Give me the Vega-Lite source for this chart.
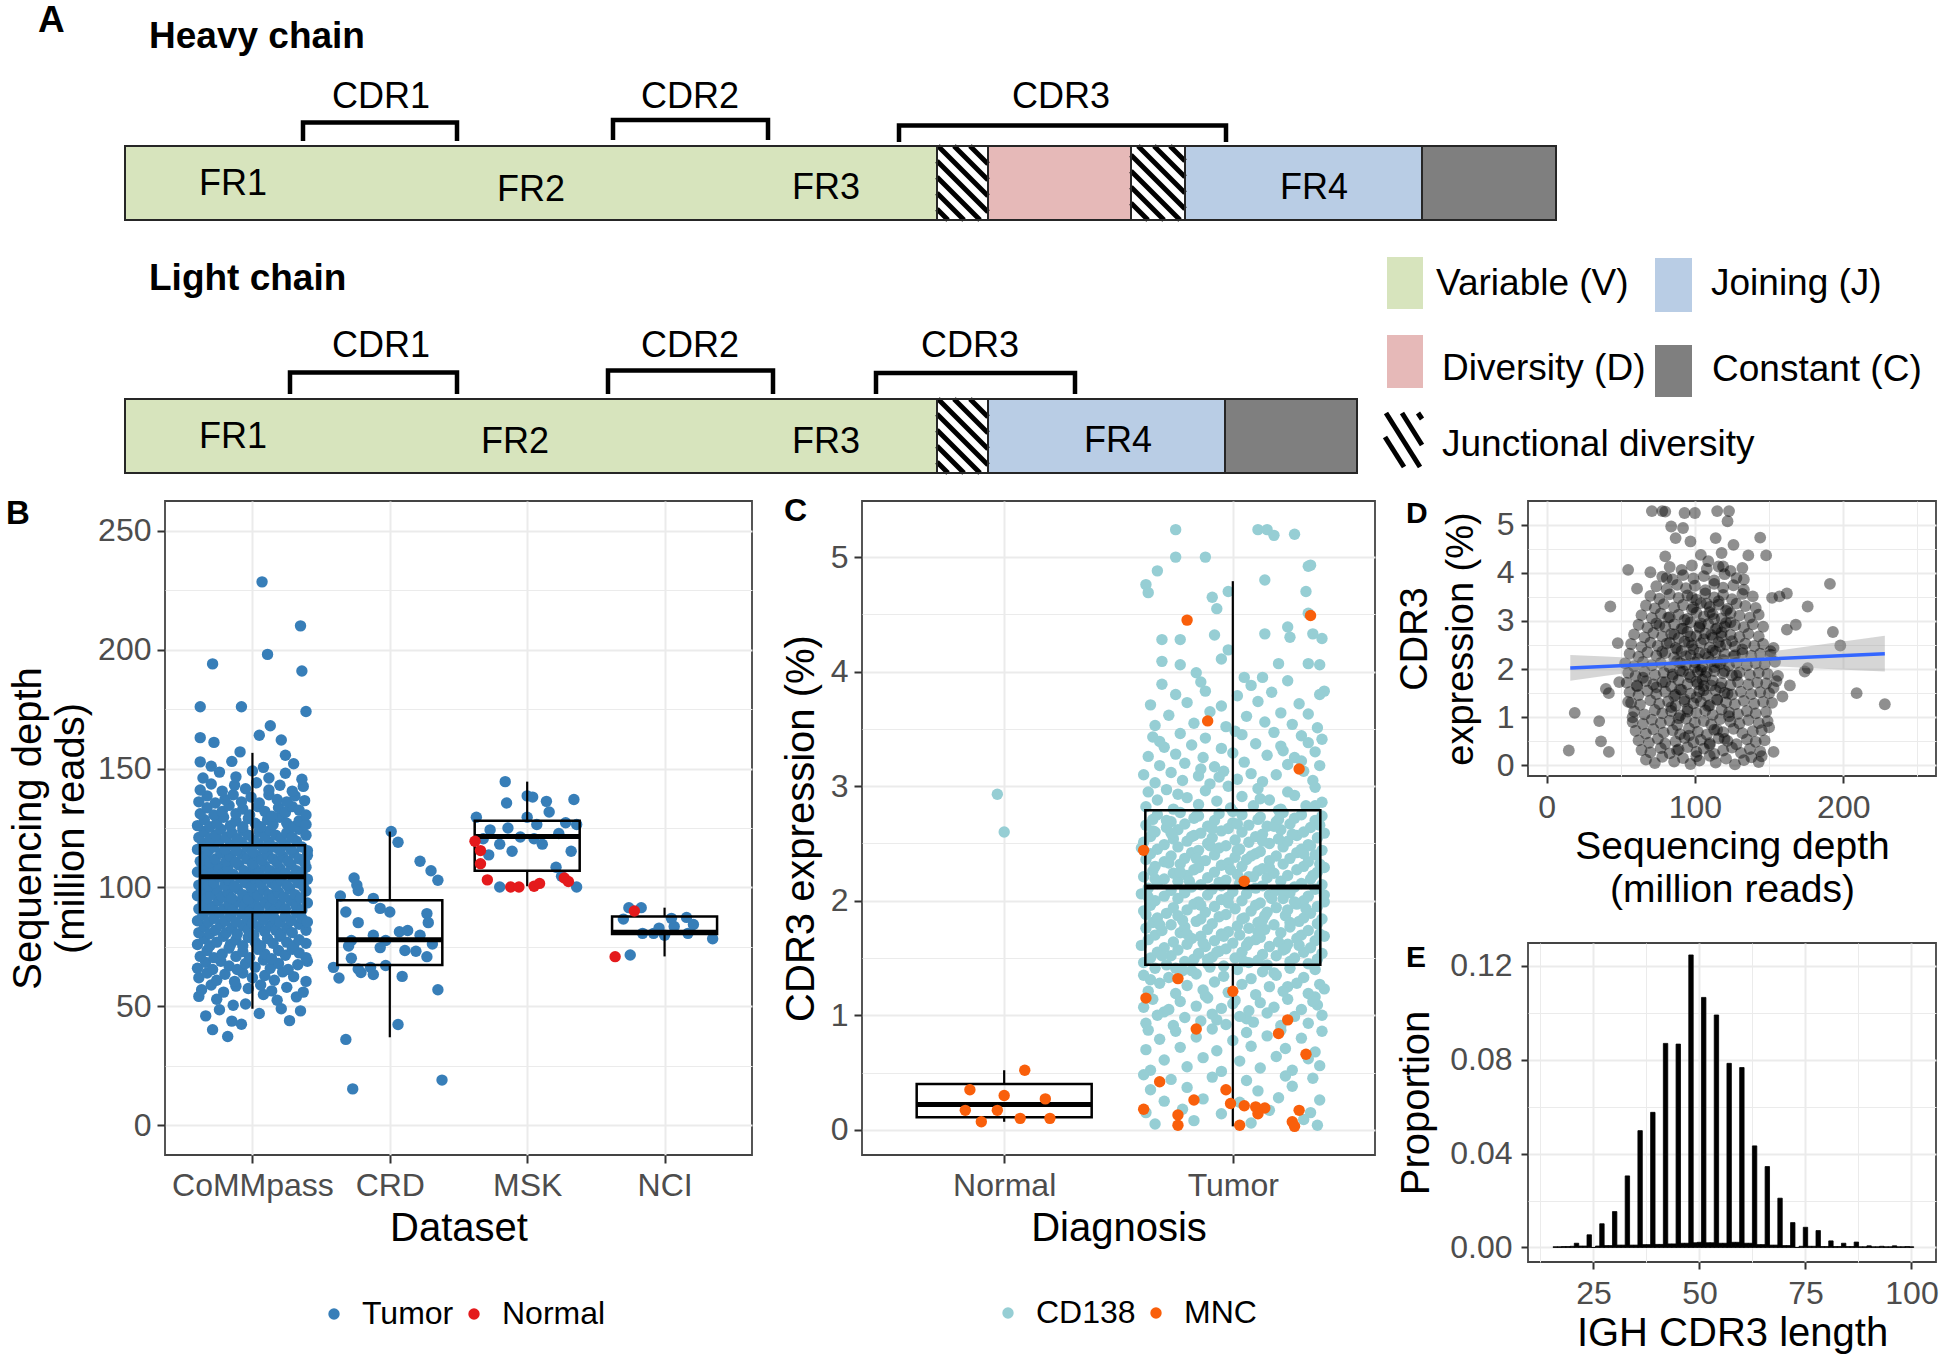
{
"$schema": "https://vega.github.io/schema/vega-lite/v6.json",
"padding": {"left": 5, "top": 0, "right": 0, "bottom": 0},
"background": "white",
"bounds": "flush",
"spacing": 21,
"config": {
 "font": "Liberation Sans",
 "view": {"stroke": "#444444", "strokeWidth": 1.8},
 "axis": {"domain": false, "grid": true, "gridColor": "#EBEBEB", "gridWidth": 2, "tickColor": "#333333", "tickWidth": 2, "tickSize": 8, "labelColor": "#4D4D4D", "labelFontSize": 32, "labelPadding": 6, "titleColor": "black", "titleFontSize": 40, "titleFontWeight": "normal", "titlePadding": 8, "labelFlush": false, "labelOverlap": false},
 "title": {"anchor": "start", "frame": "group", "fontWeight": "bold", "color": "black", "offset": 0, "baseline": "top"}
},
"datasets": {
 "seg": [{"x":124,"x2":936,"y":146,"y2":220,"r":"V"},{"x":936,"x2":987,"y":146,"y2":220,"r":"N"},{"x":987,"x2":1130,"y":146,"y2":220,"r":"D"},{"x":1130,"x2":1184,"y":146,"y2":220,"r":"N"},{"x":1184,"x2":1421,"y":146,"y2":220,"r":"J"},{"x":1421,"x2":1555,"y":146,"y2":220,"r":"C"},
  {"x":124,"x2":936,"y":399,"y2":473,"r":"V"},{"x":936,"x2":987,"y":399,"y2":473,"r":"N"},{"x":987,"x2":1224,"y":399,"y2":473,"r":"J"},{"x":1224,"x2":1356,"y":399,"y2":473,"r":"C"}],
 "key": [{"x":1386,"x2":1422,"y":257,"y2":309,"r":"V"},{"x":1654,"x2":1691,"y":258,"y2":312,"r":"J"},{"x":1386,"x2":1422,"y":335,"y2":388,"r":"D"},{"x":1654,"x2":1691,"y":345,"y2":397,"r":"C"},{"x":1384,"x2":1421,"y":413,"y2":467,"r":"N"}],
 "hatch": [{"x":969,"y":146,"x2":987,"y2":164},{"x":953,"y":146,"x2":987,"y2":180},{"x":937,"y":146,"x2":987,"y2":196},{"x":936,"y":161,"x2":987,"y2":212},{"x":936,"y":177,"x2":979,"y2":220},{"x":936,"y":193,"x2":963,"y2":220},{"x":936,"y":209,"x2":947,"y2":220},
  {"x":1169,"y":146,"x2":1184,"y2":161},{"x":1153,"y":146,"x2":1184,"y2":177},{"x":1137,"y":146,"x2":1184,"y2":193},{"x":1130,"y":155,"x2":1184,"y2":209},{"x":1130,"y":171,"x2":1179,"y2":220},{"x":1130,"y":187,"x2":1163,"y2":220},{"x":1130,"y":203,"x2":1147,"y2":220},
  {"x":969,"y":399,"x2":987,"y2":417},{"x":953,"y":399,"x2":987,"y2":433},{"x":937,"y":399,"x2":987,"y2":449},{"x":936,"y":414,"x2":987,"y2":465},{"x":936,"y":430,"x2":979,"y2":473},{"x":936,"y":446,"x2":963,"y2":473},{"x":936,"y":462,"x2":947,"y2":473},
  {"x":1385,"y":413,"x2":1419,"y2":467},{"x":1401,"y":413,"x2":1421,"y2":445},{"x":1417,"y":413,"x2":1421,"y2":419},{"x":1384,"y":437,"x2":1403,"y2":467}],
 "brk": [{"b":1,"o":1,"x":302,"y":141},{"b":1,"o":2,"x":302,"y":122.5},{"b":1,"o":3,"x":456,"y":122.5},{"b":1,"o":4,"x":456,"y":141},
  {"b":2,"o":1,"x":612,"y":140},{"b":2,"o":2,"x":612,"y":120},{"b":2,"o":3,"x":767,"y":120},{"b":2,"o":4,"x":767,"y":140},
  {"b":3,"o":1,"x":898,"y":142},{"b":3,"o":2,"x":898,"y":125.5},{"b":3,"o":3,"x":1225,"y":125.5},{"b":3,"o":4,"x":1225,"y":142},
  {"b":4,"o":1,"x":289,"y":394},{"b":4,"o":2,"x":289,"y":372.5},{"b":4,"o":3,"x":456,"y":372.5},{"b":4,"o":4,"x":456,"y":394},
  {"b":5,"o":1,"x":607,"y":394},{"b":5,"o":2,"x":607,"y":370.5},{"b":5,"o":3,"x":772,"y":370.5},{"b":5,"o":4,"x":772,"y":394},
  {"b":6,"o":1,"x":875,"y":394},{"b":6,"o":2,"x":875,"y":373},{"b":6,"o":3,"x":1074,"y":373},{"b":6,"o":4,"x":1074,"y":394}],
 "ttl": [{"t":"A","x":37,"y":21},{"t":"Heavy chain","x":148,"y":37},{"t":"Light chain","x":148,"y":279}],
 "lab": [{"t":"CDR1","x":380,"y":97},{"t":"CDR2","x":689,"y":97},{"t":"CDR3","x":1060,"y":97},{"t":"CDR1","x":380,"y":346},{"t":"CDR2","x":689,"y":346},{"t":"CDR3","x":969,"y":346},{"t":"FR1","x":232,"y":184},{"t":"FR2","x":530,"y":190},{"t":"FR3","x":825,"y":188},{"t":"FR4","x":1313,"y":188},{"t":"FR1","x":232,"y":437},{"t":"FR2","x":514,"y":442},{"t":"FR3","x":825,"y":442},{"t":"FR4","x":1117,"y":441}],
 "klab": [{"t":"Variable (V)","x":1435,"y":284},{"t":"Joining (J)","x":1710,"y":284},{"t":"Diversity (D)","x":1441,"y":369},{"t":"Constant (C)","x":1711,"y":370},{"t":"Junctional diversity","x":1441,"y":445}],
 "bT": [{"x":1.07,"y":228.5},{"x":1.35,"y":210},{"x":1.11,"y":198},{"x":0.71,"y":194},{"x":1.36,"y":191},{"x":0.62,"y":176},{"x":0.92,"y":176},{"x":1.39,"y":174},{"x":1.13,"y":168},{"x":1.05,"y":164},{"x":0.62,"y":163},{"x":0.72,"y":161},{"x":1.21,"y":162},{"x":0.91,"y":157},{"x":1.24,"y":155.6},{"x":0.62,"y":152.8},{"x":0.76,"y":48.6},{"x":1.05,"y":47},{"x":1.35,"y":48.1},{"x":0.71,"y":40.2},{"x":0.85,"y":43.8},{"x":0.92,"y":42.5},{"x":0.82,"y":37.3},{"x":0.61,"y":54.2},{"x":1.18,"y":52.6},
  {"x":1.27,"y":44},{"x":0.66,"y":46},{"x":1.21,"y":49},{"x":0.95,"y":51},{"x":1.32,"y":54},{"x":0.74,"y":53},{"x":1.08,"y":55},{"x":0.86,"y":50.5},
  {"x":0.63,"y":57},{"x":0.70,"y":59},{"x":0.79,"y":56},{"x":0.88,"y":58.5},{"x":0.97,"y":57.5},{"x":1.06,"y":59},{"x":1.14,"y":56.5},{"x":1.25,"y":58},{"x":1.37,"y":56},
  {"x":0.61,"y":62},{"x":0.67,"y":64},{"x":0.74,"y":61},{"x":0.80,"y":63.5},{"x":0.87,"y":60.5},{"x":0.93,"y":64},{"x":1.00,"y":62},{"x":1.09,"y":63},{"x":1.16,"y":61},{"x":1.22,"y":64.5},{"x":1.30,"y":62.5},{"x":1.39,"y":60.5},
  {"x":0.60,"y":66},{"x":0.66,"y":68.5},{"x":0.71,"y":65.5},{"x":0.77,"y":69},{"x":0.83,"y":67},{"x":0.89,"y":65.5},{"x":0.95,"y":68},{"x":1.02,"y":66.5},{"x":1.08,"y":69.5},{"x":1.13,"y":66},{"x":1.19,"y":68},{"x":1.26,"y":65.5},{"x":1.33,"y":67.5},{"x":1.40,"y":69},
  {"x":0.62,"y":71},{"x":0.67,"y":73.5},{"x":0.72,"y":70.5},{"x":0.78,"y":72},{"x":0.83,"y":74.5},{"x":0.88,"y":71},{"x":0.93,"y":73},{"x":0.98,"y":70.5},{"x":1.04,"y":74},{"x":1.09,"y":72},{"x":1.14,"y":70},{"x":1.19,"y":73.5},{"x":1.24,"y":71.5},{"x":1.29,"y":74},{"x":1.34,"y":72.5},{"x":1.39,"y":70.5},
  {"x":0.60,"y":76},{"x":0.65,"y":78.5},{"x":0.69,"y":75.5},{"x":0.74,"y":77},{"x":0.79,"y":79.5},{"x":0.84,"y":76},{"x":0.88,"y":78},{"x":0.93,"y":75.5},{"x":0.97,"y":79},{"x":1.02,"y":77},{"x":1.06,"y":75.5},{"x":1.11,"y":78.5},{"x":1.15,"y":76.5},{"x":1.20,"y":79.5},{"x":1.25,"y":77},{"x":1.30,"y":75.5},{"x":1.34,"y":78},{"x":1.39,"y":76.5},
  {"x":0.61,"y":81},{"x":0.65,"y":83.5},{"x":0.69,"y":80.5},{"x":0.73,"y":82},{"x":0.77,"y":84.5},{"x":0.81,"y":81},{"x":0.85,"y":83},{"x":0.89,"y":80.5},{"x":0.93,"y":84},{"x":0.97,"y":82},{"x":1.01,"y":80},{"x":1.05,"y":83.5},{"x":1.09,"y":81.5},{"x":1.13,"y":84},{"x":1.17,"y":82},{"x":1.21,"y":80.5},{"x":1.25,"y":83},{"x":1.29,"y":81},{"x":1.34,"y":84.5},{"x":1.39,"y":82},
  {"x":0.60,"y":86},{"x":0.64,"y":88.5},{"x":0.68,"y":85.5},{"x":0.72,"y":87},{"x":0.76,"y":89.5},{"x":0.80,"y":86},{"x":0.84,"y":88},{"x":0.88,"y":85.5},{"x":0.92,"y":89},{"x":0.96,"y":87},{"x":1.00,"y":85},{"x":1.04,"y":88.5},{"x":1.08,"y":86.5},{"x":1.12,"y":89},{"x":1.16,"y":87},{"x":1.20,"y":85.5},{"x":1.24,"y":88},{"x":1.28,"y":86},{"x":1.32,"y":89.5},{"x":1.36,"y":87},{"x":1.40,"y":85.5},
  {"x":0.61,"y":91},{"x":0.64,"y":93.5},{"x":0.68,"y":90.5},{"x":0.71,"y":92},{"x":0.75,"y":94.5},{"x":0.79,"y":91},{"x":0.83,"y":93},{"x":0.86,"y":90.5},{"x":0.90,"y":94},{"x":0.94,"y":92},{"x":0.98,"y":90},{"x":1.01,"y":93.5},{"x":1.05,"y":91.5},{"x":1.09,"y":94},{"x":1.13,"y":92},{"x":1.16,"y":90.5},{"x":1.20,"y":93},{"x":1.24,"y":91},{"x":1.28,"y":94.5},{"x":1.32,"y":92},{"x":1.36,"y":90.5},{"x":1.40,"y":93.5},
  {"x":0.60,"y":96.5},{"x":0.63,"y":98.5},{"x":0.67,"y":95.5},{"x":0.70,"y":97},{"x":0.74,"y":99},{"x":0.78,"y":96},{"x":0.82,"y":98},{"x":0.85,"y":95.5},{"x":0.89,"y":99.5},{"x":0.93,"y":97},{"x":0.97,"y":95},{"x":1.00,"y":98.5},{"x":1.04,"y":96.5},{"x":1.08,"y":99},{"x":1.12,"y":97},{"x":1.15,"y":95.5},{"x":1.19,"y":98},{"x":1.23,"y":96},{"x":1.27,"y":99.5},{"x":1.31,"y":97},{"x":1.35,"y":95.5},{"x":1.39,"y":98.5},
  {"x":0.61,"y":101},{"x":0.65,"y":103.5},{"x":0.68,"y":100.5},{"x":0.72,"y":102},{"x":0.76,"y":104.5},{"x":0.80,"y":101},{"x":0.83,"y":103},{"x":0.87,"y":100.5},{"x":0.91,"y":104},{"x":0.95,"y":102},{"x":0.99,"y":100},{"x":1.02,"y":103.5},{"x":1.06,"y":101.5},{"x":1.10,"y":104},{"x":1.14,"y":102},{"x":1.17,"y":100.5},{"x":1.21,"y":103},{"x":1.25,"y":101},{"x":1.29,"y":104.5},{"x":1.33,"y":102},{"x":1.37,"y":100.5},{"x":1.40,"y":103.5},
  {"x":0.60,"y":106.5},{"x":0.64,"y":108.5},{"x":0.67,"y":105.5},{"x":0.71,"y":107},{"x":0.75,"y":109},{"x":0.79,"y":106},{"x":0.82,"y":108},{"x":0.86,"y":105.5},{"x":0.90,"y":109.5},{"x":0.94,"y":107},{"x":0.98,"y":105},{"x":1.01,"y":108.5},{"x":1.05,"y":106.5},{"x":1.09,"y":109},{"x":1.13,"y":107},{"x":1.16,"y":105.5},{"x":1.20,"y":108},{"x":1.24,"y":106},{"x":1.28,"y":109.5},{"x":1.32,"y":107},{"x":1.36,"y":105.5},{"x":1.39,"y":108.5},
  {"x":0.62,"y":111},{"x":0.66,"y":113.5},{"x":0.69,"y":110.5},{"x":0.73,"y":112},{"x":0.77,"y":114.5},{"x":0.81,"y":111},{"x":0.84,"y":113},{"x":0.88,"y":110.5},{"x":0.92,"y":114},{"x":0.96,"y":112},{"x":1.00,"y":110},{"x":1.03,"y":113.5},{"x":1.07,"y":111.5},{"x":1.11,"y":114},{"x":1.15,"y":112},{"x":1.18,"y":110.5},{"x":1.22,"y":113},{"x":1.26,"y":111},{"x":1.30,"y":114.5},{"x":1.34,"y":112},{"x":1.38,"y":110.5},{"x":1.40,"y":113.5},
  {"x":0.60,"y":116},{"x":0.64,"y":118.5},{"x":0.68,"y":115.5},{"x":0.72,"y":117},{"x":0.76,"y":119.5},{"x":0.80,"y":116},{"x":0.84,"y":118},{"x":0.88,"y":115.5},{"x":0.92,"y":119},{"x":0.96,"y":117},{"x":1.00,"y":115},{"x":1.04,"y":118.5},{"x":1.08,"y":116.5},{"x":1.12,"y":119},{"x":1.16,"y":117},{"x":1.20,"y":115.5},{"x":1.24,"y":118},{"x":1.28,"y":116},{"x":1.32,"y":119.5},{"x":1.36,"y":117},{"x":1.40,"y":115.5},
  {"x":0.61,"y":121},{"x":0.65,"y":123.5},{"x":0.69,"y":120.5},{"x":0.73,"y":122},{"x":0.77,"y":124.5},{"x":0.81,"y":121},{"x":0.85,"y":123},{"x":0.89,"y":120.5},{"x":0.93,"y":124},{"x":0.97,"y":122},{"x":1.01,"y":120},{"x":1.05,"y":123.5},{"x":1.09,"y":121.5},{"x":1.13,"y":124},{"x":1.17,"y":122},{"x":1.21,"y":120.5},{"x":1.25,"y":123},{"x":1.29,"y":121},{"x":1.34,"y":124.5},{"x":1.39,"y":122},
  {"x":0.60,"y":126},{"x":0.65,"y":128.5},{"x":0.69,"y":125.5},{"x":0.74,"y":127},{"x":0.79,"y":129.5},{"x":0.84,"y":126},{"x":0.88,"y":128},{"x":0.93,"y":125.5},{"x":0.97,"y":129},{"x":1.02,"y":127},{"x":1.06,"y":125.5},{"x":1.11,"y":128.5},{"x":1.15,"y":126.5},{"x":1.20,"y":129.5},{"x":1.25,"y":127},{"x":1.30,"y":125.5},{"x":1.34,"y":128},{"x":1.39,"y":126.5},
  {"x":0.62,"y":131},{"x":0.67,"y":133.5},{"x":0.72,"y":130.5},{"x":0.78,"y":132},{"x":0.83,"y":134.5},{"x":0.88,"y":131},{"x":0.93,"y":133},{"x":0.98,"y":130.5},{"x":1.04,"y":134},{"x":1.09,"y":132},{"x":1.14,"y":130},{"x":1.19,"y":133.5},{"x":1.24,"y":131.5},{"x":1.29,"y":134},{"x":1.34,"y":132.5},{"x":1.39,"y":130.5},
  {"x":0.61,"y":136},{"x":0.67,"y":138.5},{"x":0.73,"y":135.5},{"x":0.80,"y":137},{"x":0.86,"y":139},{"x":0.92,"y":136},{"x":0.99,"y":138},{"x":1.05,"y":135.5},{"x":1.12,"y":139},{"x":1.18,"y":137},{"x":1.25,"y":136},{"x":1.31,"y":138.5},{"x":1.38,"y":136.5},
  {"x":0.62,"y":141},{"x":0.70,"y":143.5},{"x":0.78,"y":140.5},{"x":0.87,"y":143},{"x":0.95,"y":141.5},{"x":1.03,"y":144},{"x":1.12,"y":141},{"x":1.20,"y":143},{"x":1.29,"y":140.5},{"x":1.37,"y":142.5},
  {"x":0.64,"y":146},{"x":0.76,"y":148.5},{"x":0.88,"y":146.5},{"x":1.00,"y":149},{"x":1.12,"y":146},{"x":1.24,"y":148},{"x":1.36,"y":145.5},
  {"x":0.70,"y":151},{"x":0.85,"y":153},{"x":1.08,"y":150.5},{"x":1.30,"y":152},
  {"x":2.01,"y":123.5},{"x":2.06,"y":119},{"x":2.22,"y":111},{"x":2.30,"y":107},{"x":2.35,"y":103},{"x":1.74,"y":104},{"x":1.76,"y":101},{"x":1.77,"y":98.7},{"x":1.64,"y":96.4},{"x":1.88,"y":95.4},{"x":1.68,"y":89.7},{"x":1.93,"y":91.2},{"x":2.0,"y":89.7},{"x":2.27,"y":89},{"x":2.28,"y":85.2},{"x":1.77,"y":85.2},{"x":2.07,"y":81.4},{"x":2.13,"y":81.9},{"x":1.88,"y":79.9},{"x":2.22,"y":79.9},{"x":1.97,"y":77.7},{"x":1.72,"y":77.7},{"x":2.31,"y":76.2},{"x":1.70,"y":75.4},{"x":1.93,"y":74.7},{"x":2.11,"y":73.5},{"x":2.19,"y":73.2},{"x":2.27,"y":70.9},{"x":1.72,"y":70.2},{"x":1.59,"y":66.4},{"x":1.77,"y":65.7},{"x":1.86,"y":66.4},{"x":1.97,"y":67.2},{"x":1.79,"y":64.2},{"x":1.88,"y":63.4},{"x":2.09,"y":62.6},{"x":1.63,"y":61.9},{"x":2.35,"y":57},{"x":2.06,"y":42.4},{"x":1.68,"y":36.1},{"x":1.73,"y":15.3},{"x":2.38,"y":19},
  {"x":2.84,"y":144.5},{"x":3.0,"y":138.5},{"x":3.04,"y":138},{"x":2.85,"y":135.5},{"x":3.14,"y":136.2},{"x":3.34,"y":137},{"x":3.16,"y":131.7},{"x":2.63,"y":129.5},{"x":3.0,"y":129.5},{"x":3.07,"y":126.5},{"x":3.36,"y":126.5},{"x":2.73,"y":124.2},{"x":2.86,"y":125},{"x":2.95,"y":121.2},{"x":2.80,"y":118.2},{"x":3.11,"y":118.2},{"x":2.89,"y":115.2},{"x":3.32,"y":115.2},{"x":3.21,"y":108.5},{"x":2.80,"y":100.2},{"x":3.36,"y":100.2},{"x":3.25,"y":104.7},{"x":2.68,"y":120.5},{"x":3.23,"y":122.7},{"x":3.28,"y":127.2},{"x":3.05,"y":120.5},{"x":2.72,"y":113.7},
  {"x":3.74,"y":91.5},{"x":3.83,"y":91.5},{"x":3.70,"y":86.7},{"x":3.84,"y":80.7},{"x":3.92,"y":80.7},{"x":4.0,"y":79.9},{"x":4.07,"y":83.6},{"x":4.16,"y":87.4},{"x":4.17,"y":80.7},{"x":4.35,"y":78.4},{"x":4.05,"y":87},{"x":3.75,"y":71.6},{"x":3.96,"y":82.9},{"x":4.21,"y":84.4}],
 "bN": [{"x":2.62,"y":119.4},{"x":2.66,"y":115.5},{"x":2.66,"y":110},{"x":2.71,"y":103.2},{"x":2.88,"y":100.2},{"x":2.94,"y":100.2},{"x":3.05,"y":100.5},{"x":3.09,"y":101.7},{"x":3.27,"y":104},{"x":3.30,"y":102.5},{"x":3.78,"y":90.1},{"x":3.64,"y":70.9}],
 "bBox": [{"x":1,"lo":49,"q1":89.6,"med":104.5,"q3":117.7,"hi":156.6},{"x":2,"lo":37,"q1":67.4,"med":78,"q3":94.6,"hi":123.5},{"x":3,"lo":100.5,"q1":107,"med":121.4,"q3":128,"hi":144.5},{"x":4,"lo":71,"q1":80.4,"med":81.2,"q3":87.8,"hi":91.5}],
 "cC": [{"x":0.97,"y":2.93},{"x":1.0,"y":2.6},{"x":1.75,"y":5.24},{"x":1.75,"y":5.0},{"x":1.88,"y":5.0},{"x":1.67,"y":4.88},{"x":1.62,"y":4.76},{"x":1.63,"y":4.69},{"x":1.91,"y":4.65},{"x":1.93,"y":4.55},{"x":1.98,"y":4.7},{"x":2.11,"y":5.24},{"x":2.15,"y":5.24},{"x":2.18,"y":5.19},{"x":2.27,"y":5.2},{"x":2.33,"y":4.92},{"x":2.34,"y":4.93},{"x":2.14,"y":4.8},{"x":2.32,"y":4.7},{"x":2.33,"y":4.51},{"x":2.35,"y":4.33},{"x":2.39,"y":4.29},{"x":1.69,"y":4.28},{"x":1.77,"y":4.28},{"x":1.92,"y":4.32},{"x":2.14,"y":4.33},{"x":2.24,"y":4.39},{"x":2.25,"y":4.3},{"x":1.69,"y":4.09},{"x":1.77,"y":4.06},{"x":1.95,"y":4.11},{"x":1.98,"y":4.19},{"x":2.33,"y":4.07},{"x":2.38,"y":4.06},{"x":2.4,"y":3.83},{"x":2.2,"y":4.07},{"x":2.05,"y":3.95},{"x":2.13,"y":3.95},{"x":1.84,"y":3.99},
  {"x":1.66,"y":3.53},{"x":1.83,"y":3.55},{"x":1.97,"y":3.52},{"x":2.14,"y":3.56},{"x":2.26,"y":3.54},{"x":2.37,"y":3.51},{"x":1.72,"y":3.62},{"x":1.90,"y":3.65},{"x":2.06,"y":3.61},{"x":2.21,"y":3.64},{"x":2.33,"y":3.63},{"x":1.64,"y":3.71},{"x":1.80,"y":3.73},{"x":1.95,"y":3.70},{"x":2.11,"y":3.74},{"x":2.29,"y":3.72},{"x":1.75,"y":3.80},{"x":1.88,"y":3.83},{"x":2.02,"y":3.79},{"x":2.17,"y":3.82},{"x":2.38,"y":3.80},{"x":1.69,"y":3.89},{"x":1.86,"y":3.91},{"x":2.08,"y":3.88},{"x":2.24,"y":3.92},
  {"x":1.66,"y":3.03},{"x":1.78,"y":3.05},{"x":1.90,"y":3.02},{"x":2.02,"y":3.06},{"x":2.13,"y":3.04},{"x":2.35,"y":3.05},{"x":1.61,"y":3.10},{"x":1.73,"y":3.12},{"x":1.85,"y":3.09},{"x":1.96,"y":3.13},{"x":2.08,"y":3.11},{"x":2.19,"y":3.10},{"x":2.31,"y":3.13},{"x":1.68,"y":3.18},{"x":1.79,"y":3.20},{"x":1.92,"y":3.17},{"x":2.05,"y":3.21},{"x":2.24,"y":3.19},{"x":2.38,"y":3.18},{"x":1.63,"y":3.26},{"x":1.75,"y":3.28},{"x":1.87,"y":3.25},{"x":2.00,"y":3.29},{"x":2.15,"y":3.27},{"x":2.27,"y":3.25},{"x":2.36,"y":3.30},{"x":1.70,"y":3.34},{"x":1.82,"y":3.36},{"x":1.95,"y":3.33},{"x":2.10,"y":3.37},{"x":2.21,"y":3.35},{"x":2.33,"y":3.38},{"x":1.65,"y":3.43},{"x":1.77,"y":3.46},{"x":1.88,"y":3.42},{"x":2.04,"y":3.45},{"x":2.18,"y":3.47},{"x":2.30,"y":3.44},{"x":2.39,"y":3.41},
  {"x":1.62,"y":2.82},{"x":1.74,"y":2.80},{"x":1.85,"y":2.84},{"x":1.99,"y":2.81},{"x":2.09,"y":2.83},{"x":2.21,"y":2.80},{"x":2.32,"y":2.83},{"x":2.39,"y":2.86},{"x":1.67,"y":2.88},{"x":1.80,"y":2.90},{"x":1.93,"y":2.87},{"x":2.04,"y":2.91},{"x":2.16,"y":2.88},{"x":2.27,"y":2.92},{"x":1.63,"y":2.95},{"x":1.71,"y":2.97},{"x":1.88,"y":2.96},{"x":2.11,"y":2.98},{"x":2.24,"y":2.95},{"x":2.36,"y":2.99},{"x":1.98,"y":3.0},
  {"x":1.61,"y":1.46},{"x":1.71,"y":1.44},{"x":1.79,"y":1.47},{"x":1.89,"y":1.45},{"x":1.96,"y":1.43},{"x":2.07,"y":1.46},{"x":2.15,"y":1.44},{"x":2.25,"y":1.47},{"x":2.33,"y":1.45},
  {"x":1.64,"y":1.50},{"x":1.73,"y":1.52},{"x":1.83,"y":1.49},{"x":1.91,"y":1.51},{"x":2.01,"y":1.50},{"x":2.11,"y":1.48},{"x":2.19,"y":1.52},{"x":2.27,"y":1.50},{"x":2.37,"y":1.49},
  {"x":1.67,"y":1.55},{"x":1.76,"y":1.57},{"x":1.85,"y":1.54},{"x":1.94,"y":1.56},{"x":2.04,"y":1.55},{"x":2.13,"y":1.53},{"x":2.22,"y":1.57},{"x":2.31,"y":1.55},{"x":2.39,"y":1.54},
  {"x":1.60,"y":1.61},{"x":1.70,"y":1.59},{"x":1.80,"y":1.62},{"x":1.88,"y":1.60},{"x":1.97,"y":1.58},{"x":2.06,"y":1.61},{"x":2.16,"y":1.60},{"x":2.24,"y":1.62},{"x":2.34,"y":1.59},
  {"x":1.63,"y":1.66},{"x":1.74,"y":1.64},{"x":1.82,"y":1.67},{"x":1.92,"y":1.65},{"x":2.00,"y":1.63},{"x":2.10,"y":1.66},{"x":2.20,"y":1.64},{"x":2.28,"y":1.67},{"x":2.36,"y":1.65},
  {"x":1.66,"y":1.70},{"x":1.77,"y":1.72},{"x":1.86,"y":1.69},{"x":1.95,"y":1.71},{"x":2.03,"y":1.70},{"x":2.12,"y":1.68},{"x":2.21,"y":1.72},{"x":2.30,"y":1.70},{"x":2.40,"y":1.69},
  {"x":1.62,"y":1.76},{"x":1.69,"y":1.74},{"x":1.79,"y":1.77},{"x":1.89,"y":1.75},{"x":1.98,"y":1.73},{"x":2.07,"y":1.76},{"x":2.14,"y":1.75},{"x":2.25,"y":1.77},{"x":2.33,"y":1.74},
  {"x":1.65,"y":1.81},{"x":1.73,"y":1.79},{"x":1.84,"y":1.82},{"x":1.91,"y":1.80},{"x":2.02,"y":1.78},{"x":2.11,"y":1.81},{"x":2.18,"y":1.79},{"x":2.29,"y":1.82},{"x":2.37,"y":1.80},
  {"x":1.67,"y":1.85},{"x":1.76,"y":1.87},{"x":1.86,"y":1.84},{"x":1.94,"y":1.86},{"x":2.05,"y":1.85},{"x":2.13,"y":1.83},{"x":2.23,"y":1.87},{"x":2.31,"y":1.85},{"x":2.39,"y":1.84},
  {"x":1.61,"y":1.91},{"x":1.71,"y":1.89},{"x":1.80,"y":1.92},{"x":1.88,"y":1.90},{"x":1.97,"y":1.88},{"x":2.08,"y":1.91},{"x":2.15,"y":1.90},{"x":2.24,"y":1.92},{"x":2.34,"y":1.89},
  {"x":1.64,"y":1.96},{"x":1.74,"y":1.94},{"x":1.83,"y":1.97},{"x":1.92,"y":1.95},{"x":2.01,"y":1.93},{"x":2.10,"y":1.96},{"x":2.19,"y":1.94},{"x":2.28,"y":1.97},{"x":2.37,"y":1.95},
  {"x":1.66,"y":2.00},{"x":1.76,"y":2.02},{"x":1.85,"y":1.99},{"x":1.95,"y":2.01},{"x":2.04,"y":2.00},{"x":2.12,"y":1.98},{"x":2.22,"y":2.02},{"x":2.31,"y":2.00},{"x":2.40,"y":1.99},
  {"x":1.60,"y":2.06},{"x":1.70,"y":2.04},{"x":1.79,"y":2.07},{"x":1.89,"y":2.05},{"x":1.98,"y":2.03},{"x":2.06,"y":2.06},{"x":2.16,"y":2.05},{"x":2.25,"y":2.07},{"x":2.33,"y":2.04},
  {"x":1.63,"y":2.11},{"x":1.73,"y":2.09},{"x":1.82,"y":2.12},{"x":1.91,"y":2.10},{"x":2.00,"y":2.08},{"x":2.10,"y":2.11},{"x":2.19,"y":2.09},{"x":2.27,"y":2.12},{"x":2.36,"y":2.10},
  {"x":1.67,"y":2.15},{"x":1.76,"y":2.17},{"x":1.86,"y":2.14},{"x":1.94,"y":2.16},{"x":2.03,"y":2.15},{"x":2.13,"y":2.13},{"x":2.21,"y":2.17},{"x":2.30,"y":2.15},{"x":2.39,"y":2.14},
  {"x":1.61,"y":2.21},{"x":1.70,"y":2.19},{"x":1.80,"y":2.22},{"x":1.89,"y":2.20},{"x":1.97,"y":2.18},{"x":2.07,"y":2.21},{"x":2.15,"y":2.20},{"x":2.24,"y":2.22},{"x":2.34,"y":2.19},
  {"x":1.65,"y":2.26},{"x":1.74,"y":2.24},{"x":1.83,"y":2.27},{"x":1.92,"y":2.25},{"x":2.02,"y":2.23},{"x":2.11,"y":2.26},{"x":2.18,"y":2.24},{"x":2.28,"y":2.27},{"x":2.37,"y":2.25},
  {"x":1.66,"y":2.30},{"x":1.77,"y":2.32},{"x":1.85,"y":2.29},{"x":1.95,"y":2.31},{"x":2.04,"y":2.30},{"x":2.13,"y":2.28},{"x":2.22,"y":2.32},{"x":2.31,"y":2.30},{"x":2.40,"y":2.29},
  {"x":1.62,"y":2.36},{"x":1.70,"y":2.34},{"x":1.79,"y":2.37},{"x":1.88,"y":2.35},{"x":1.98,"y":2.33},{"x":2.06,"y":2.36},{"x":2.16,"y":2.35},{"x":2.25,"y":2.37},{"x":2.33,"y":2.34},
  {"x":1.64,"y":2.41},{"x":1.73,"y":2.39},{"x":1.82,"y":2.42},{"x":1.92,"y":2.40},{"x":2.01,"y":2.38},{"x":2.10,"y":2.41},{"x":2.19,"y":2.39},{"x":2.28,"y":2.42},{"x":2.36,"y":2.40},
  {"x":1.67,"y":2.45},{"x":1.76,"y":2.47},{"x":1.85,"y":2.44},{"x":1.94,"y":2.46},{"x":2.03,"y":2.45},{"x":2.12,"y":2.43},{"x":2.22,"y":2.47},{"x":2.30,"y":2.45},{"x":2.39,"y":2.44},
  {"x":1.61,"y":2.51},{"x":1.70,"y":2.49},{"x":1.80,"y":2.52},{"x":1.89,"y":2.50},{"x":1.97,"y":2.48},{"x":2.07,"y":2.51},{"x":2.16,"y":2.50},{"x":2.24,"y":2.52},{"x":2.33,"y":2.49},
  {"x":1.64,"y":2.56},{"x":1.74,"y":2.54},{"x":1.83,"y":2.57},{"x":1.91,"y":2.55},{"x":2.01,"y":2.53},{"x":2.10,"y":2.56},{"x":2.20,"y":2.54},{"x":2.28,"y":2.57},{"x":2.37,"y":2.55},
  {"x":1.66,"y":2.60},{"x":1.76,"y":2.62},{"x":1.86,"y":2.59},{"x":1.95,"y":2.61},{"x":2.04,"y":2.60},{"x":2.13,"y":2.58},{"x":2.21,"y":2.62},{"x":2.31,"y":2.60},{"x":2.40,"y":2.59},
  {"x":1.62,"y":2.66},{"x":1.71,"y":2.64},{"x":1.79,"y":2.67},{"x":1.89,"y":2.65},{"x":1.98,"y":2.63},{"x":2.07,"y":2.66},{"x":2.15,"y":2.65},{"x":2.25,"y":2.67},{"x":2.34,"y":2.64},
  {"x":1.65,"y":2.71},{"x":1.73,"y":2.69},{"x":1.83,"y":2.72},{"x":1.92,"y":2.70},{"x":2.00,"y":2.68},{"x":2.11,"y":2.71},{"x":2.19,"y":2.69},{"x":2.27,"y":2.72},{"x":2.36,"y":2.70},
  {"x":1.67,"y":2.75},{"x":1.77,"y":2.77},{"x":1.85,"y":2.74},{"x":1.94,"y":2.76},{"x":2.04,"y":2.75},{"x":2.12,"y":2.73},{"x":2.22,"y":2.77},{"x":2.30,"y":2.75},{"x":2.39,"y":2.74},
  {"x":1.69,"y":1.52},{"x":1.87,"y":1.63},{"x":2.05,"y":1.47},{"x":2.23,"y":1.58},{"x":2.38,"y":1.71},{"x":1.78,"y":1.83},{"x":1.96,"y":1.69},{"x":2.14,"y":1.87},{"x":2.32,"y":1.93},{"x":1.63,"y":2.03},{"x":1.81,"y":2.17},{"x":1.99,"y":2.27},{"x":2.17,"y":2.02},{"x":2.35,"y":2.22},{"x":1.72,"y":2.33},{"x":1.90,"y":2.48},{"x":2.08,"y":2.39},{"x":2.26,"y":2.58},{"x":1.65,"y":2.61},{"x":1.84,"y":2.74},
  {"x":2.02,"y":2.67},{"x":2.20,"y":2.79},{"x":2.38,"y":2.66},{"x":1.75,"y":1.41},{"x":1.93,"y":1.55},{"x":2.11,"y":1.73},{"x":2.29,"y":1.61},{"x":1.68,"y":1.79},{"x":1.86,"y":1.96},{"x":2.04,"y":1.84},{"x":2.22,"y":2.09},{"x":2.40,"y":2.05},{"x":1.77,"y":2.25},{"x":1.95,"y":2.13},{"x":2.13,"y":2.52},{"x":2.31,"y":2.41},{"x":1.60,"y":2.46},{"x":1.82,"y":2.56},{"x":2.00,"y":2.78},{"x":2.18,"y":2.65},
  {"x":2.36,"y":2.83},{"x":1.71,"y":2.70},{"x":1.89,"y":1.49},{"x":2.07,"y":1.64},{"x":2.25,"y":1.81},{"x":1.62,"y":1.88},{"x":1.80,"y":1.71},{"x":1.98,"y":1.98},{"x":2.16,"y":2.29},{"x":2.34,"y":2.48},{"x":1.73,"y":2.59},{"x":1.91,"y":2.63},{"x":2.09,"y":2.21},{"x":2.27,"y":1.99},{"x":1.66,"y":2.19},{"x":1.84,"y":2.37},{"x":2.02,"y":2.44},{"x":2.20,"y":2.71},{"x":2.38,"y":2.32},{"x":1.79,"y":2.09},
  {"x":1.70,"y":1.03},{"x":1.88,"y":1.17},{"x":2.06,"y":0.97},{"x":2.24,"y":1.25},{"x":1.64,"y":1.31},{"x":1.82,"y":1.39},{"x":2.00,"y":1.10},{"x":2.18,"y":1.37},{"x":2.36,"y":1.16},{"x":1.93,"y":0.96},{"x":1.76,"y":2.93},{"x":1.94,"y":3.08},{"x":2.12,"y":2.89},{"x":2.30,"y":3.22},{"x":1.68,"y":3.39},{"x":1.86,"y":3.15},{"x":2.22,"y":3.31},{"x":2.01,"y":3.48},
  {"x":1.62,"y":0.93},{"x":1.74,"y":0.91},{"x":1.86,"y":0.95},{"x":1.97,"y":0.92},{"x":2.09,"y":0.94},{"x":2.21,"y":0.91},{"x":2.33,"y":0.93},{"x":1.67,"y":1.00},{"x":1.79,"y":0.98},{"x":1.91,"y":1.01},{"x":2.03,"y":0.99},{"x":2.15,"y":1.02},{"x":2.27,"y":0.99},{"x":2.39,"y":1.00},
  {"x":1.61,"y":1.07},{"x":1.72,"y":1.05},{"x":1.84,"y":1.08},{"x":1.95,"y":1.06},{"x":2.07,"y":1.04},{"x":2.18,"y":1.07},{"x":2.30,"y":1.05},{"x":2.37,"y":1.09},{"x":1.65,"y":1.14},{"x":1.77,"y":1.12},{"x":1.89,"y":1.15},{"x":2.01,"y":1.13},{"x":2.12,"y":1.11},{"x":2.24,"y":1.14},{"x":2.35,"y":1.12},
  {"x":1.63,"y":1.21},{"x":1.75,"y":1.19},{"x":1.87,"y":1.22},{"x":1.98,"y":1.20},{"x":2.10,"y":1.18},{"x":2.22,"y":1.21},{"x":2.33,"y":1.19},{"x":2.40,"y":1.23},{"x":1.68,"y":1.28},{"x":1.80,"y":1.26},{"x":1.92,"y":1.29},{"x":2.04,"y":1.27},{"x":2.16,"y":1.25},{"x":2.28,"y":1.28},{"x":2.38,"y":1.27},
  {"x":1.61,"y":1.35},{"x":1.72,"y":1.33},{"x":1.84,"y":1.36},{"x":1.96,"y":1.34},{"x":2.08,"y":1.32},{"x":2.19,"y":1.35},{"x":2.31,"y":1.33},{"x":1.66,"y":1.41},{"x":1.78,"y":1.39},{"x":1.90,"y":1.42},{"x":2.02,"y":1.40},{"x":2.13,"y":1.38},{"x":2.25,"y":1.41},{"x":2.36,"y":1.40},
  {"x":1.64,"y":0.52},{"x":1.80,"y":0.55},{"x":1.95,"y":0.51},{"x":2.12,"y":0.54},{"x":2.26,"y":0.52},{"x":2.38,"y":0.56},{"x":1.70,"y":0.61},{"x":1.87,"y":0.63},{"x":2.03,"y":0.60},{"x":2.19,"y":0.64},{"x":2.33,"y":0.62},{"x":1.62,"y":0.70},{"x":1.77,"y":0.72},{"x":1.93,"y":0.69},{"x":2.08,"y":0.73},{"x":2.23,"y":0.71},{"x":2.36,"y":0.68},
  {"x":1.68,"y":0.79},{"x":1.84,"y":0.81},{"x":2.00,"y":0.78},{"x":2.15,"y":0.82},{"x":2.30,"y":0.80},{"x":1.63,"y":0.87},{"x":1.75,"y":0.86},{"x":1.91,"y":0.88},{"x":2.06,"y":0.85},{"x":2.21,"y":0.87},{"x":2.39,"y":0.86},
  {"x":1.66,"y":0.05},{"x":1.83,"y":0.08},{"x":2.08,"y":0.06},{"x":2.31,"y":0.09},{"x":2.37,"y":0.04},{"x":1.62,"y":0.15},{"x":1.78,"y":0.18},{"x":1.95,"y":0.14},{"x":2.16,"y":0.17},{"x":2.34,"y":0.15},{"x":1.70,"y":0.25},{"x":1.87,"y":0.27},{"x":2.03,"y":0.24},{"x":2.20,"y":0.28},{"x":2.38,"y":0.26},
  {"x":1.64,"y":0.35},{"x":1.80,"y":0.37},{"x":2.11,"y":0.34},{"x":2.26,"y":0.38},{"x":1.73,"y":0.44},{"x":1.91,"y":0.46},{"x":2.06,"y":0.43},{"x":2.23,"y":0.47},{"x":2.35,"y":0.45},{"x":1.61,"y":0.48}],
 "cM": [{"x":1.09,"y":0.52},{"x":0.85,"y":0.35},{"x":1.0,"y":0.3},{"x":1.18,"y":0.27},{"x":0.83,"y":0.17},{"x":0.97,"y":0.17},{"x":0.9,"y":0.07},{"x":1.07,"y":0.1},{"x":1.2,"y":0.1},
  {"x":1.8,"y":4.45},{"x":2.34,"y":4.49},{"x":1.89,"y":3.57},{"x":2.29,"y":3.15},{"x":1.61,"y":2.44},{"x":2.05,"y":2.17},{"x":1.76,"y":1.32},{"x":1.62,"y":1.15},{"x":2.0,"y":1.21},{"x":2.24,"y":0.96},{"x":1.84,"y":0.88},{"x":2.2,"y":0.84},{"x":2.32,"y":0.66},{"x":1.68,"y":0.42},{"x":1.97,"y":0.35},{"x":1.83,"y":0.26},{"x":1.61,"y":0.18},{"x":1.99,"y":0.23},{"x":2.05,"y":0.21},{"x":2.1,"y":0.2},{"x":2.14,"y":0.19},{"x":2.11,"y":0.14},{"x":2.29,"y":0.17},{"x":1.76,"y":0.13},{"x":1.76,"y":0.04},{"x":2.03,"y":0.04},{"x":2.26,"y":0.07},{"x":2.27,"y":0.03}],
 "cBox": [{"x":1,"lo":0.07,"q1":0.11,"med":0.22,"q3":0.4,"hi":0.52},{"x":2,"lo":0.03,"q1":1.44,"med":2.12,"q3":2.79,"hi":4.79}],
 "d": [{"x":15,"y":0.31},{"x":19,"y":1.09},{"x":35.5,"y":0.92},{"x":36.7,"y":0.5},{"x":42,"y":0.28},{"x":43,"y":3.3},{"x":40,"y":1.59},{"x":42,"y":1.5},{"x":48,"y":2.54},{"x":55,"y":4.06},{"x":61,"y":3.67},{"x":71,"y":5.28},{"x":78,"y":5.28},{"x":80,"y":5.27},{"x":93,"y":5.24},{"x":100,"y":5.24},{"x":115,"y":5.28},{"x":123,"y":5.28},{"x":122,"y":5.07},{"x":126,"y":4.58},{"x":144,"y":4.73},{"x":148,"y":4.36},{"x":136,"y":4.36},{"x":132,"y":4.1},{"x":133,"y":3.86},{"x":152,"y":3.48},{"x":157,"y":3.51},{"x":162,"y":3.57},{"x":168,"y":2.92},{"x":162,"y":2.82},{"x":176,"y":3.3},{"x":174,"y":1.95},{"x":176,"y":2.02},{"x":191,"y":3.77},{"x":193,"y":2.77},{"x":198,"y":2.49},{"x":209,"y":1.5},{"x":228,"y":1.27},{"x":153,"y":1.61},{"x":159,"y":1.43},{"x":164,"y":1.66},{"x":150,"y":0.79},{"x":153,"y":0.28},{"x":145,"y":0.19},{"x":153,"y":2.44},{"x":151,"y":2.37},{"x":55,"y":1.32},{"x":58,"y":1.0},{"x":49,"y":1.73},{"x":61,"y":1.64},{"x":65,"y":1.82},{"x":70,"y":4.01},{"x":81,"y":3.89},{"x":80,"y":4.34},{"x":87,"y":4.72},{"x":84,"y":4.96},{"x":92,"y":4.93},{"x":97,"y":4.65},{"x":104,"y":4.37},{"x":114,"y":4.72},{"x":118,"y":4.41},{"x":119,"y":4.13},{"x":109,"y":4.24},
  {"x":67,"y":0.12},{"x":73,"y":0.05},{"x":78,"y":0.18},{"x":86,"y":0.08},{"x":92,"y":0.15},{"x":97,"y":0.03},{"x":103,"y":0.1},{"x":110,"y":0.2},{"x":114,"y":0.06},{"x":121,"y":0.14},{"x":127,"y":0.02},{"x":133,"y":0.11},{"x":138,"y":0.17},{"x":143,"y":0.07},
  {"x":64,"y":0.32},{"x":70,"y":0.27},{"x":77,"y":0.36},{"x":83,"y":0.25},{"x":89,"y":0.33},{"x":95,"y":0.38},{"x":101,"y":0.28},{"x":106,"y":0.35},{"x":113,"y":0.24},{"x":119,"y":0.31},{"x":125,"y":0.37},{"x":131,"y":0.26},{"x":137,"y":0.34},{"x":144,"y":0.29},
  {"x":62,"y":0.52},{"x":69,"y":0.47},{"x":75,"y":0.55},{"x":80,"y":0.45},{"x":87,"y":0.5},{"x":93,"y":0.57},{"x":99,"y":0.48},{"x":104,"y":0.53},{"x":110,"y":0.46},{"x":116,"y":0.56},{"x":122,"y":0.51},{"x":128,"y":0.44},{"x":135,"y":0.54},{"x":141,"y":0.49},{"x":147,"y":0.52},
  {"x":60,"y":0.72},{"x":67,"y":0.66},{"x":72,"y":0.75},{"x":79,"y":0.68},{"x":85,"y":0.73},{"x":90,"y":0.65},{"x":96,"y":0.77},{"x":102,"y":0.7},{"x":108,"y":0.64},{"x":113,"y":0.74},{"x":119,"y":0.69},{"x":126,"y":0.76},{"x":132,"y":0.67},{"x":139,"y":0.71},{"x":145,"y":0.73},
  {"x":58,"y":0.9},{"x":65,"y":0.86},{"x":71,"y":0.95},{"x":77,"y":0.88},{"x":83,"y":0.93},{"x":88,"y":0.84},{"x":94,"y":0.97},{"x":100,"y":0.89},{"x":106,"y":0.92},{"x":111,"y":0.85},{"x":117,"y":0.96},{"x":124,"y":0.91},{"x":130,"y":0.87},{"x":136,"y":0.94},{"x":143,"y":0.88},{"x":149,"y":0.92},
  {"x":59,"y":1.12},{"x":66,"y":1.06},{"x":73,"y":1.15},{"x":78,"y":1.08},{"x":84,"y":1.13},{"x":90,"y":1.04},{"x":95,"y":1.17},{"x":101,"y":1.09},{"x":107,"y":1.14},{"x":112,"y":1.05},{"x":118,"y":1.16},{"x":123,"y":1.1},{"x":129,"y":1.07},{"x":135,"y":1.13},{"x":141,"y":1.08},{"x":148,"y":1.11},
  {"x":57,"y":1.3},{"x":63,"y":1.26},{"x":70,"y":1.35},{"x":76,"y":1.28},{"x":82,"y":1.33},{"x":87,"y":1.24},{"x":93,"y":1.37},{"x":99,"y":1.29},{"x":104,"y":1.32},{"x":110,"y":1.25},{"x":115,"y":1.36},{"x":121,"y":1.31},{"x":127,"y":1.27},{"x":133,"y":1.34},{"x":140,"y":1.28},{"x":146,"y":1.32},{"x":152,"y":1.3},
  {"x":56,"y":1.52},{"x":62,"y":1.46},{"x":68,"y":1.55},{"x":74,"y":1.48},{"x":80,"y":1.53},{"x":86,"y":1.44},{"x":91,"y":1.57},{"x":97,"y":1.49},{"x":103,"y":1.54},{"x":108,"y":1.45},{"x":114,"y":1.56},{"x":120,"y":1.51},{"x":125,"y":1.47},{"x":131,"y":1.53},{"x":138,"y":1.48},{"x":144,"y":1.52},{"x":150,"y":1.5},
  {"x":54,"y":1.72},{"x":61,"y":1.66},{"x":67,"y":1.75},{"x":72,"y":1.68},{"x":78,"y":1.73},{"x":84,"y":1.64},{"x":89,"y":1.77},{"x":95,"y":1.69},{"x":101,"y":1.74},{"x":106,"y":1.65},{"x":112,"y":1.76},{"x":118,"y":1.71},{"x":124,"y":1.67},{"x":129,"y":1.73},{"x":136,"y":1.68},{"x":142,"y":1.72},{"x":148,"y":1.7},{"x":155,"y":1.75},
  {"x":55,"y":1.92},{"x":60,"y":1.86},{"x":66,"y":1.95},{"x":73,"y":1.88},{"x":79,"y":1.93},{"x":85,"y":1.84},{"x":90,"y":1.97},{"x":96,"y":1.89},{"x":102,"y":1.94},{"x":107,"y":1.85},{"x":113,"y":1.96},{"x":119,"y":1.91},{"x":125,"y":1.87},{"x":130,"y":1.93},{"x":137,"y":1.88},{"x":143,"y":1.92},{"x":149,"y":1.9},{"x":156,"y":1.86},
  {"x":53,"y":2.12},{"x":59,"y":2.06},{"x":65,"y":2.15},{"x":71,"y":2.08},{"x":77,"y":2.13},{"x":83,"y":2.04},{"x":88,"y":2.17},{"x":94,"y":2.09},{"x":100,"y":2.14},{"x":105,"y":2.05},{"x":111,"y":2.16},{"x":117,"y":2.11},{"x":123,"y":2.07},{"x":128,"y":2.13},{"x":135,"y":2.08},{"x":141,"y":2.12},{"x":147,"y":2.1},{"x":154,"y":2.15},
  {"x":56,"y":2.32},{"x":62,"y":2.26},{"x":68,"y":2.35},{"x":74,"y":2.28},{"x":80,"y":2.33},{"x":86,"y":2.24},{"x":91,"y":2.37},{"x":97,"y":2.29},{"x":103,"y":2.34},{"x":109,"y":2.25},{"x":114,"y":2.36},{"x":120,"y":2.31},{"x":126,"y":2.27},{"x":132,"y":2.33},{"x":138,"y":2.28},{"x":144,"y":2.32},{"x":151,"y":2.3},
  {"x":57,"y":2.52},{"x":64,"y":2.46},{"x":70,"y":2.55},{"x":75,"y":2.48},{"x":81,"y":2.53},{"x":87,"y":2.44},{"x":93,"y":2.57},{"x":98,"y":2.49},{"x":104,"y":2.54},{"x":110,"y":2.45},{"x":116,"y":2.56},{"x":121,"y":2.51},{"x":127,"y":2.47},{"x":134,"y":2.53},{"x":140,"y":2.48},{"x":146,"y":2.52},
  {"x":59,"y":2.72},{"x":66,"y":2.66},{"x":72,"y":2.75},{"x":78,"y":2.68},{"x":84,"y":2.73},{"x":89,"y":2.64},{"x":95,"y":2.77},{"x":101,"y":2.69},{"x":107,"y":2.74},{"x":112,"y":2.65},{"x":118,"y":2.76},{"x":124,"y":2.71},{"x":130,"y":2.67},{"x":136,"y":2.73},{"x":143,"y":2.68},
  {"x":62,"y":2.92},{"x":68,"y":2.86},{"x":74,"y":2.95},{"x":80,"y":2.88},{"x":86,"y":2.93},{"x":92,"y":2.84},{"x":97,"y":2.97},{"x":103,"y":2.89},{"x":109,"y":2.94},{"x":115,"y":2.85},{"x":121,"y":2.96},{"x":127,"y":2.91},{"x":133,"y":2.87},{"x":139,"y":2.93},{"x":146,"y":2.88},
  {"x":64,"y":3.12},{"x":71,"y":3.06},{"x":77,"y":3.15},{"x":83,"y":3.08},{"x":89,"y":3.13},{"x":95,"y":3.04},{"x":101,"y":3.17},{"x":106,"y":3.09},{"x":112,"y":3.14},{"x":118,"y":3.05},{"x":124,"y":3.16},{"x":130,"y":3.11},{"x":137,"y":3.07},{"x":143,"y":3.13},
  {"x":67,"y":3.32},{"x":73,"y":3.26},{"x":79,"y":3.35},{"x":86,"y":3.28},{"x":92,"y":3.33},{"x":98,"y":3.24},{"x":104,"y":3.37},{"x":110,"y":3.29},{"x":116,"y":3.34},{"x":122,"y":3.25},{"x":128,"y":3.36},{"x":134,"y":3.31},{"x":141,"y":3.27},
  {"x":70,"y":3.52},{"x":76,"y":3.46},{"x":83,"y":3.55},{"x":89,"y":3.48},{"x":95,"y":3.53},{"x":101,"y":3.44},{"x":107,"y":3.57},{"x":113,"y":3.49},{"x":119,"y":3.54},{"x":125,"y":3.45},{"x":132,"y":3.56},{"x":139,"y":3.51},
  {"x":74,"y":3.72},{"x":81,"y":3.66},{"x":88,"y":3.75},{"x":94,"y":3.68},{"x":100,"y":3.73},{"x":107,"y":3.64},{"x":113,"y":3.77},{"x":119,"y":3.69},{"x":126,"y":3.74},{"x":133,"y":3.65},
  {"x":78,"y":3.92},{"x":85,"y":3.86},{"x":92,"y":3.95},{"x":99,"y":3.88},{"x":106,"y":3.93},{"x":113,"y":3.84},{"x":120,"y":3.97},{"x":128,"y":3.89},
  {"x":83,"y":4.12},{"x":91,"y":4.06},{"x":98,"y":4.15},{"x":108,"y":4.08},{"x":116,"y":4.13},{"x":124,"y":4.04},
  {"x":88,"y":2.41},{"x":97,"y":1.83},{"x":106,"y":2.62},{"x":115,"y":1.37},{"x":93,"y":3.02},{"x":102,"y":2.21},{"x":111,"y":1.66},{"x":120,"y":2.88},{"x":84,"y":1.21},{"x":99,"y":3.28},{"x":108,"y":1.94},{"x":117,"y":2.47},{"x":90,"y":1.58},{"x":104,"y":2.95},{"x":113,"y":2.04},{"x":122,"y":1.49},{"x":86,"y":2.72},{"x":95,"y":1.12},{"x":110,"y":3.18},{"x":119,"y":2.19},
  {"x":78,"y":2.36},{"x":92,"y":1.96},{"x":101,"y":1.41},{"x":116,"y":3.41},{"x":125,"y":2.58},{"x":82,"y":3.07},{"x":96,"y":2.55},{"x":105,"y":1.78},{"x":114,"y":2.83},{"x":128,"y":1.87},{"x":89,"y":0.98},{"x":98,"y":3.49},{"x":107,"y":2.32},{"x":123,"y":1.02},{"x":80,"y":1.73},{"x":94,"y":2.27},{"x":103,"y":2.86},{"x":112,"y":2.39},{"x":121,"y":3.21},{"x":87,"y":1.47},
  {"x":100,"y":2.04},{"x":109,"y":1.23},{"x":118,"y":2.68},{"x":132,"y":2.41},{"x":76,"y":2.91},{"x":91,"y":2.84},{"x":106,"y":1.56},{"x":115,"y":2.14},{"x":124,"y":2.97},{"x":85,"y":1.89},{"x":97,"y":2.68},{"x":108,"y":3.36},{"x":117,"y":1.62},{"x":127,"y":2.29},{"x":83,"y":2.55},{"x":93,"y":1.33},{"x":102,"y":1.69},{"x":111,"y":2.71},{"x":120,"y":1.96},{"x":74,"y":1.62},
  {"x":99,"y":2.41},{"x":104,"y":1.98},{"x":113,"y":3.04},{"x":90,"y":2.13},{"x":96,"y":0.62},{"x":110,"y":0.43},{"x":88,"y":0.31},{"x":120,"y":0.55},{"x":101,"y":0.19},{"x":115,"y":0.74}],
 "dci": [{"x":16,"lo":1.76,"hi":2.29},{"x":40,"lo":1.86,"hi":2.26},{"x":60,"lo":1.94,"hi":2.23},{"x":80,"lo":2.02,"hi":2.2},{"x":104,"lo":2.1,"hi":2.2},{"x":130,"lo":2.09,"hi":2.28},{"x":160,"lo":2.05,"hi":2.4},{"x":190,"lo":2.0,"hi":2.53},{"x":228,"lo":1.95,"hi":2.69}],
 "dfit": [{"x":16,"y":2.02},{"x":228,"y":2.32}],
 "e": [{"x":16,"y":0.0003},{"x":17,"y":0.0003},{"x":18,"y":0.0004},{"x":19,"y":0.0004},{"x":20,"y":0.0005},{"x":21,"y":0.0018},{"x":22,"y":0.0006},{"x":23,"y":0.0006},{"x":24,"y":0.0054},{"x":25,"y":0},{"x":26,"y":0.0006},{"x":27,"y":0.0101},{"x":28,"y":0.0008},{"x":29,"y":0.0008},{"x":30,"y":0.0153},{"x":31,"y":0.001},{"x":32,"y":0.001},{"x":33,"y":0.0305},{"x":34,"y":0.001},{"x":35,"y":0.001},{"x":36,"y":0.0498},{"x":37,"y":0.0012},{"x":38,"y":0.0012},{"x":39,"y":0.0576},{"x":40,"y":0.0013},{"x":41,"y":0.0013},{"x":42,"y":0.087},{"x":43,"y":0.0015},{"x":44,"y":0.0015},{"x":45,"y":0.0867},{"x":46,"y":0.0018},{"x":47,"y":0.0018},{"x":48,"y":0.1247},{"x":49,"y":0.002},{"x":50,"y":0.0022},{"x":51,"y":0.1066},{"x":52,"y":0.002},{"x":53,"y":0.002},{"x":54,"y":0.0991},{"x":55,"y":0.0018},{"x":56,"y":0.0018},{"x":57,"y":0.0785},{"x":58,"y":0.0022},{"x":59,"y":0.0022},{"x":60,"y":0.0767},{"x":61,"y":0.0018},{"x":62,"y":0.0018},{"x":63,"y":0.0433},{"x":64,"y":0.0012},{"x":65,"y":0.0012},{"x":66,"y":0.0345},{"x":67,"y":0.001},{"x":68,"y":0.001},{"x":69,"y":0.021},{"x":70,"y":0.0008},{"x":71,"y":0.0008},{"x":72,"y":0.0106},{"x":73,"y":0},{"x":74,"y":0.0005},{"x":75,"y":0.0086},{"x":76,"y":0.0005},{"x":77,"y":0.0005},{"x":78,"y":0.0072},{"x":79,"y":0.0004},{"x":80,"y":0.0004},{"x":81,"y":0.0028},{"x":82,"y":0.0004},{"x":83,"y":0.0004},{"x":84,"y":0.0018},{"x":85,"y":0.0004},{"x":86,"y":0.0004},{"x":87,"y":0.0023},{"x":88,"y":0.0003},{"x":89,"y":0.0003},{"x":90,"y":0.0007},{"x":91,"y":0.0003},{"x":92,"y":0.0003},{"x":93,"y":0.0005},{"x":94,"y":0.0003},{"x":95,"y":0.0003},{"x":96,"y":0.0007},{"x":97,"y":0.0003},{"x":98,"y":0.0003},{"x":99,"y":0.0004},{"x":100,"y":0.0003}]
},
"vconcat": [
 {
  "width": 1786, "height": 480,
  "view": {"stroke": null, "fill": "white"},
  "encoding": {
   "x": {"field": "x", "type": "quantitative", "scale": {"domain": [164, 1950], "nice": false, "zero": false}, "axis": null},
   "y": {"field": "y", "type": "quantitative", "scale": {"domain": [0, 480], "reverse": true, "nice": false, "zero": false}, "axis": null}
  },
  "layer": [
   {"data": {"name": "seg"}, "mark": {"type": "rect", "stroke": "#262626", "strokeWidth": 2},
    "encoding": {"x2": {"field": "x2"}, "y2": {"field": "y2"}, "fill": {"field": "r", "type": "nominal", "scale": {"domain": ["V","D","J","C","N"], "range": ["#D7E4BD","#E6B9B8","#B9CDE5","#7F7F7F","#FFFFFF"]}, "legend": null}}},
   {"data": {"name": "key"}, "mark": {"type": "rect"},
    "encoding": {"x2": {"field": "x2"}, "y2": {"field": "y2"}, "fill": {"field": "r", "type": "nominal", "legend": null}}},
   {"data": {"name": "hatch"}, "mark": {"type": "rule", "strokeWidth": 5, "color": "black"},
    "encoding": {"x2": {"field": "x2"}, "y2": {"field": "y2"}}},
   {"data": {"name": "seg"}, "mark": {"type": "rect", "fillOpacity": 0, "stroke": "#262626", "strokeWidth": 2},
    "encoding": {"x2": {"field": "x2"}, "y2": {"field": "y2"}}},
   {"data": {"name": "brk"}, "mark": {"type": "line", "strokeWidth": 4.5, "color": "black", "strokeJoin": "miter", "strokeCap": "butt"},
    "encoding": {"detail": {"field": "b", "type": "nominal"}, "order": {"field": "o", "type": "quantitative"}}},
   {"data": {"name": "ttl"}, "mark": {"type": "text", "fontWeight": "bold", "fontSize": 37, "align": "left", "baseline": "middle"},
    "encoding": {"text": {"field": "t"}}},
   {"data": {"name": "lab"}, "mark": {"type": "text", "fontSize": 36, "align": "center", "baseline": "middle"},
    "encoding": {"text": {"field": "t"}}},
   {"data": {"name": "klab"}, "mark": {"type": "text", "fontSize": 37, "align": "left", "baseline": "middle"},
    "encoding": {"text": {"field": "t"}}}
  ]
 },
 {
  "bounds": "flush", "spacing": 110,
  "resolve": {"scale": {"color": "independent"}, "legend": {"color": "independent"}},
  "hconcat": [
   {
    "width": 587, "height": 654,
    "title": {"text": "B", "fontSize": 33, "dx": -159, "dy": 34},
    "encoding": {
     "x": {"field": "x", "type": "quantitative", "scale": {"domain": [0.4, 4.6], "nice": false, "zero": false},
      "axis": {"values": [1,2,3,4], "labelExpr": "['CoMMpass','CRD','MSK','NCI'][datum.value-1]", "title": "Dataset", "labelPadding": 7, "titlePadding": 7}},
     "y": {"field": "y", "type": "quantitative", "scale": {"domain": [-12.5, 262.5], "nice": false, "zero": false},
      "axis": {"values": [0,25,50,75,100,125,150,175,200,225,250], "labelExpr": "datum.value % 50 == 0 ? datum.label : ''",
       "gridWidth": {"condition": {"test": "datum.value % 50 != 0", "value": 1}, "value": 2},
       "tickOpacity": {"condition": {"test": "datum.value % 50 != 0", "value": 0}, "value": 1},
       "title": ["Sequencing depth", "(million reads)"], "titleLineHeight": 43, "titlePadding": 6}}
    },
    "layer": [
     {"data": {"name": "bT"}, "mark": {"type": "circle", "size": 130, "opacity": 1},
      "encoding": {"color": {"datum": "Tumor", "type": "nominal", "scale": {"domain": ["Tumor","Normal"], "range": ["#377EB8","#E41A1C"]},
       "legend": {"orient": "none", "legendX": 153, "legendY": 797, "direction": "horizontal", "title": null, "symbolType": "circle", "symbolSize": 130, "symbolStrokeWidth": 0, "labelFontSize": 32, "labelColor": "black", "labelOffset": 12, "columnPadding": 4}}}},
     {"data": {"name": "bBox"}, "mark": {"type": "rule", "strokeWidth": 2.2, "color": "black"},
      "encoding": {"y": {"field": "lo", "type": "quantitative", "scale": {"domain": [-12.5, 262.5], "nice": false, "zero": false}}, "y2": {"field": "q1"}}},
     {"data": {"name": "bBox"}, "mark": {"type": "rule", "strokeWidth": 2.2, "color": "black"},
      "encoding": {"y": {"field": "q3", "type": "quantitative", "scale": {"domain": [-12.5, 262.5], "nice": false, "zero": false}}, "y2": {"field": "hi"}}},
     {"data": {"name": "bBox"}, "mark": {"type": "bar", "width": 105, "fillOpacity": 0, "stroke": "black", "strokeWidth": 2.5},
      "encoding": {"y": {"field": "q1", "type": "quantitative", "scale": {"domain": [-12.5, 262.5], "nice": false, "zero": false}}, "y2": {"field": "q3"}}},
     {"data": {"name": "bBox"}, "mark": {"type": "tick", "orient": "horizontal", "size": 105, "thickness": 5, "color": "black", "opacity": 1},
      "encoding": {"y": {"field": "med", "type": "quantitative", "scale": {"domain": [-12.5, 262.5], "nice": false, "zero": false}}}},
     {"data": {"name": "bN"}, "mark": {"type": "circle", "size": 130, "opacity": 1},
      "encoding": {"color": {"datum": "Normal", "type": "nominal"}}}
    ]
   },
   {
    "bounds": "flush", "spacing": 153,
    "resolve": {"scale": {"color": "independent"}, "legend": {"color": "independent"}},
    "hconcat": [
     {
      "width": 513, "height": 654,
      "title": {"text": "C", "fontSize": 32, "dx": -78, "dy": 31},
      "encoding": {
       "x": {"field": "x", "type": "quantitative", "scale": {"domain": [0.4, 2.6], "nice": false, "zero": false},
        "axis": {"values": [1,2], "labelExpr": "['Normal','Tumor'][datum.value-1]", "title": "Diagnosis", "labelPadding": 7, "titlePadding": 7}},
       "y": {"field": "y", "type": "quantitative", "scale": {"domain": [-0.22, 5.49], "nice": false, "zero": false},
        "axis": {"values": [0,0.5,1,1.5,2,2.5,3,3.5,4,4.5,5], "labelExpr": "datum.value % 1 == 0 ? format(datum.value, 'd') : ''",
         "gridWidth": {"condition": {"test": "datum.value % 1 != 0", "value": 1}, "value": 2},
         "tickOpacity": {"condition": {"test": "datum.value % 1 != 0", "value": 0}, "value": 1},
         "title": "CDR3 expression (%)", "titlePadding": 9}}
      },
      "layer": [
       {"data": {"name": "cC"}, "mark": {"type": "circle", "size": 130, "opacity": 1},
        "encoding": {"color": {"datum": "CD138", "type": "nominal", "scale": {"domain": ["CD138","MNC"], "range": ["#96CED4","#F95F0B"]},
         "legend": {"orient": "none", "legendX": 130, "legendY": 796, "direction": "horizontal", "title": null, "symbolType": "circle", "symbolSize": 130, "symbolStrokeWidth": 0, "labelFontSize": 32, "labelColor": "black", "labelOffset": 12, "columnPadding": 4}}}},
       {"data": {"name": "cBox"}, "mark": {"type": "rule", "strokeWidth": 2.2, "color": "black"},
        "encoding": {"y": {"field": "lo", "type": "quantitative", "scale": {"domain": [-0.22, 5.49], "nice": false, "zero": false}}, "y2": {"field": "q1"}}},
       {"data": {"name": "cBox"}, "mark": {"type": "rule", "strokeWidth": 2.2, "color": "black"},
        "encoding": {"y": {"field": "q3", "type": "quantitative", "scale": {"domain": [-0.22, 5.49], "nice": false, "zero": false}}, "y2": {"field": "hi"}}},
       {"data": {"name": "cBox"}, "mark": {"type": "bar", "width": 175, "fillOpacity": 0, "stroke": "black", "strokeWidth": 2.5},
        "encoding": {"y": {"field": "q1", "type": "quantitative", "scale": {"domain": [-0.22, 5.49], "nice": false, "zero": false}}, "y2": {"field": "q3"}}},
       {"data": {"name": "cBox"}, "mark": {"type": "tick", "orient": "horizontal", "size": 175, "thickness": 5, "color": "black", "opacity": 1},
        "encoding": {"y": {"field": "med", "type": "quantitative", "scale": {"domain": [-0.22, 5.49], "nice": false, "zero": false}}}},
       {"data": {"name": "cM"}, "mark": {"type": "circle", "size": 130, "opacity": 1},
        "encoding": {"color": {"datum": "MNC", "type": "nominal"}}}
      ]
     },
     {
      "bounds": "flush", "spacing": 167,
      "vconcat": [
       {
        "width": 408, "height": 275,
        "title": {"text": "D", "fontSize": 30, "dx": -122, "dy": 32},
        "encoding": {
         "x": {"field": "x", "type": "quantitative", "scale": {"domain": [-12.5, 262.5], "nice": false, "zero": false},
          "axis": {"values": [0,50,100,150,200,250], "labelExpr": "datum.value % 100 == 0 ? datum.label : ''",
           "gridWidth": {"condition": {"test": "datum.value % 100 != 0", "value": 1}, "value": 2},
           "tickOpacity": {"condition": {"test": "datum.value % 100 != 0", "value": 0}, "value": 1},
           "tickSize": 7, "labelPadding": 9, "title": ["Sequencing depth", "(million reads)"], "titleFontSize": 39, "titleLineHeight": 43, "titlePadding": 4}},
         "y": {"field": "y", "type": "quantitative", "scale": {"domain": [-0.22, 5.49], "nice": false, "zero": false},
          "axis": {"values": [0,0.5,1,1.5,2,2.5,3,3.5,4,4.5,5], "labelExpr": "datum.value % 1 == 0 ? format(datum.value, 'd') : ''",
           "gridWidth": {"condition": {"test": "datum.value % 1 != 0", "value": 1}, "value": 2},
           "tickOpacity": {"condition": {"test": "datum.value % 1 != 0", "value": 0}, "value": 1},
           "tickSize": 7, "labelPadding": 7, "title": ["CDR3", "expression (%)"], "titleFontSize": 38, "titleLineHeight": 46, "titlePadding": 16}}
        },
        "layer": [
         {"data": {"name": "d"}, "mark": {"type": "circle", "size": 140, "color": "black", "opacity": 0.44}},
         {"data": {"name": "dci"}, "mark": {"type": "area", "color": "#999999", "opacity": 0.4},
          "encoding": {"y": {"field": "lo", "type": "quantitative", "scale": {"domain": [-0.22, 5.49], "nice": false, "zero": false}}, "y2": {"field": "hi"}}},
         {"data": {"name": "dfit"}, "mark": {"type": "line", "color": "#3366FF", "strokeWidth": 3.5}}
        ]
       },
       {
        "width": 408, "height": 319,
        "title": {"text": "E", "fontSize": 30, "dx": -122, "dy": 34},
        "encoding": {
         "x": {"field": "x", "type": "quantitative", "scale": {"domain": [10.74, 104.6], "nice": false, "zero": false},
          "axis": {"values": [12.5,25,37.5,50,62.5,75,87.5,100], "labelExpr": "datum.value % 25 == 0 ? datum.label : ''",
           "gridWidth": {"condition": {"test": "datum.value % 25 != 0", "value": 1}, "value": 2},
           "tickOpacity": {"condition": {"test": "datum.value % 25 != 0", "value": 0}, "value": 1},
           "tickSize": 7, "labelPadding": 9, "title": "IGH CDR3 length", "titleFontSize": 40, "titlePadding": 4}},
         "y": {"field": "y", "type": "quantitative", "scale": {"domain": [-0.0062, 0.1298], "nice": false, "zero": false},
          "axis": {"values": [0,0.02,0.04,0.06,0.08,0.1,0.12], "labelExpr": "indexof([0,0.04,0.08,0.12], datum.value) >= 0 ? format(datum.value, '.2f') : ''",
           "gridWidth": {"condition": {"test": "indexof([0,0.04,0.08,0.12], datum.value) < 0", "value": 1}, "value": 2},
           "tickOpacity": {"condition": {"test": "indexof([0,0.04,0.08,0.12], datum.value) < 0", "value": 0}, "value": 1},
           "tickSize": 7, "labelPadding": 9, "title": "Proportion", "titleFontSize": 40, "titlePadding": 13}}
        },
        "layer": [
         {"data": {"name": "e"}, "mark": {"type": "bar", "width": 4.4, "color": "black", "stroke": "black", "strokeWidth": 0.8},
          "encoding": {"y2": {"datum": 0}}}
        ]
       }
      ]
     }
    ]
   }
  ]
 }
]
}
